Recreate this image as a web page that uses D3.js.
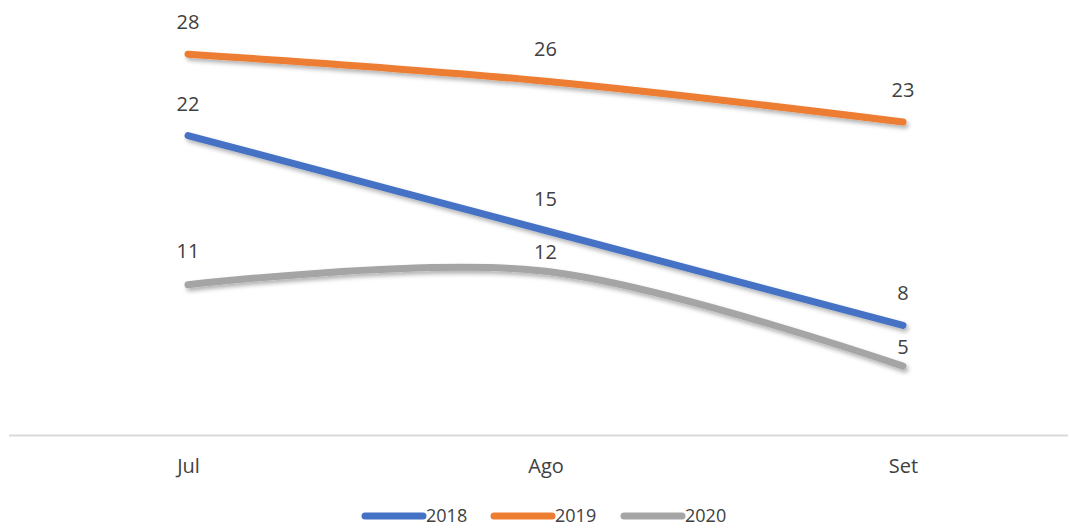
<!DOCTYPE html>
<html>
<head>
<meta charset="utf-8">
<script src="https://cdn.jsdelivr.net/npm/d3@7"></script>
<style>
  body { margin: 0; background: #fff; }
  text { font-family: "Open Sans", "Noto Sans", sans-serif; fill: #404040; }
</style>
</head>
<body>
<div id="chart"></div>
<script>
// data
const months = ['Jul', 'Ago', 'Set'];
const seriesNames = ['2018', '2019', '2020'];
const values2018 = [22, 15, 8];
const values2019 = [28, 26, 23];
const values2020 = [11, 12, 5];

const width = 1070;
const height = 528;
const colors = ['#4472C4', '#ED7D31', '#A5A5A5'];

const series = [values2018, values2019, values2020].map((vals, i) => ({
  name: seriesNames[i],
  color: colors[i],
  values: vals
}));

const svg = d3.select('#chart')
  .append('svg')
  .attr('width', width)
  .attr('height', height);

// soft shadow under the lines, like the office chart
const filter = svg.append('defs').append('filter')
  .attr('id', 'shadow')
  .attr('x', '-10%').attr('y', '-50%')
  .attr('width', '120%').attr('height', '200%');
filter.append('feDropShadow')
  .attr('dx', 2).attr('dy', 3)
  .attr('stdDeviation', 2)
  .attr('flood-color', '#000')
  .attr('flood-opacity', 0.3);

const x = d3.scalePoint().domain(months).range([188, 903]);
const y = d3.scaleLinear().domain([0, 30]).range([434, 27]);

// horizontal axis line + month labels
svg.append('line')
  .attr('x1', 9).attr('x2', 1068)
  .attr('y1', 435.5).attr('y2', 435.5)
  .attr('stroke', '#d9d9d9')
  .attr('stroke-width', 2);

const xAxis = svg.append('g')
  .attr('transform', 'translate(0,435)')
  .call(d3.axisBottom(x).tickSize(0).tickPadding(24));
xAxis.select('.domain').remove();
xAxis.selectAll('text')
  .attr('font-size', 20)
  .attr('fill', '#404040')
  .style('font-family', '"Open Sans", "Noto Sans", sans-serif');

const line = d3.line()
  .x((d, i) => x(months[i]))
  .y((d) => y(d))
  .curve(d3.curveCardinal.tension(0));

svg.append('g').selectAll('path')
  .data(series)
  .join('path')
  .attr('d', (d) => line(d.values))
  .attr('fill', 'none')
  .attr('stroke', (d) => d.color)
  .attr('stroke-width', 7)
  .attr('stroke-linecap', 'round')
  .attr('filter', 'url(#shadow)');

// data labels above points; the gray ones are pushed closer (as in the original)
const labelGap = (s, i) => {
  if (s === 2 && i > 0) return 19;
  if (s === 2) return 34;
  return 32;
};

series.forEach((s, si) => {
  svg.append('g').selectAll('text')
    .data(s.values)
    .join('text')
    .attr('x', (d, i) => x(months[i]))
    .attr('y', (d, i) => y(d) - labelGap(si, i))
    .attr('dy', '0.35em')
    .attr('text-anchor', 'middle')
    .attr('font-size', 20)
    .text((d) => d);
});

// legend
const legendX = [365, 494, 624];
const legend = svg.append('g').selectAll('g')
  .data(series)
  .join('g')
  .attr('transform', (d, i) => `translate(${legendX[i]},516)`);

legend.append('line')
  .attr('x1', 0).attr('x2', 58)
  .attr('stroke', (d) => d.color)
  .attr('stroke-width', 7)
  .attr('stroke-linecap', 'round');

legend.append('text')
  .attr('x', 61)
  .attr('dy', '0.35em')
  .attr('font-size', 18)
  .text((d) => d.name);
</script>
</body>
</html>
